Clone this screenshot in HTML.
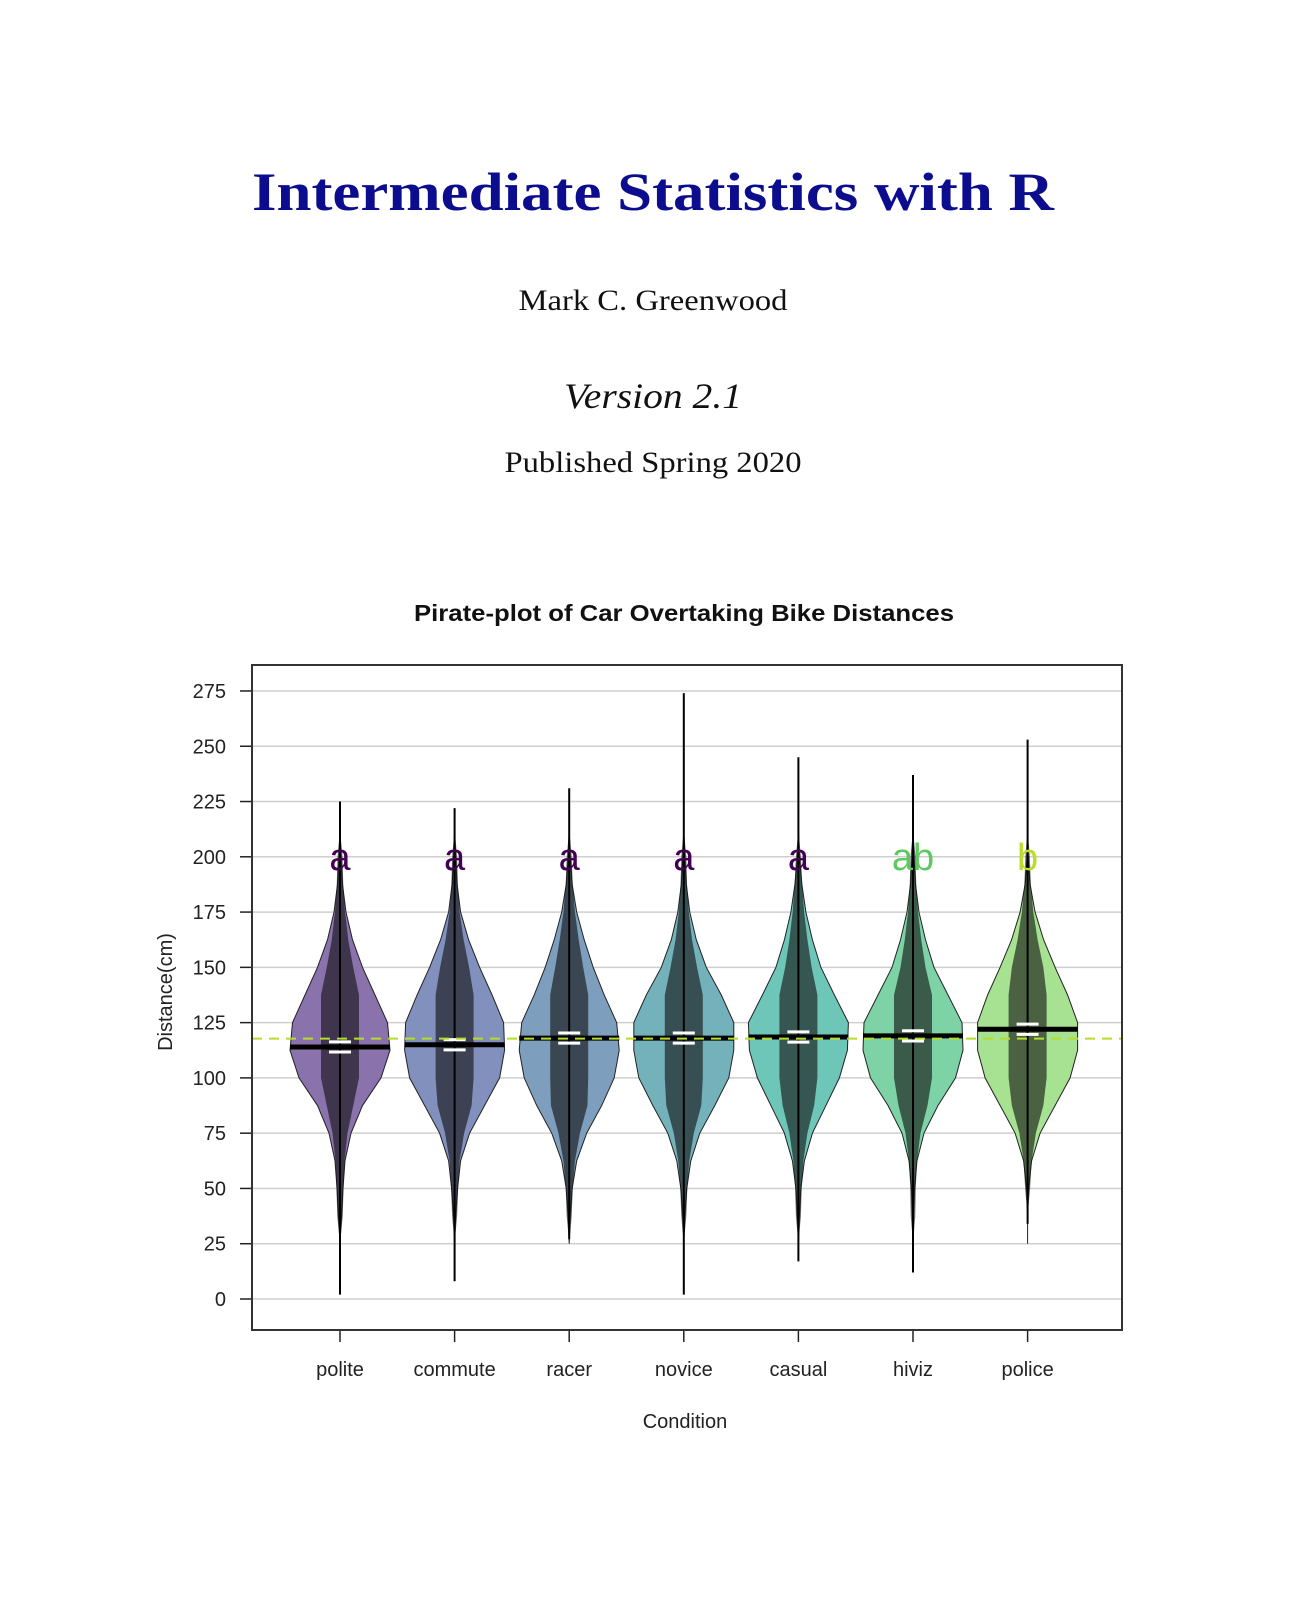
<!DOCTYPE html>
<html><head><meta charset="utf-8"><style>
body{margin:0;background:#fff;width:1312px;height:1615px;overflow:hidden}
svg{display:block}
</style></head><body>
<svg id="s" width="1312" height="1615" viewBox="0 0 1312 1615">
<text x="653" y="210" text-anchor="middle" textLength="802" lengthAdjust="spacingAndGlyphs" font-family="Liberation Serif,serif" font-weight="bold" font-size="54" fill="#0c0c8f">Intermediate Statistics with R</text>
<text x="653" y="310" text-anchor="middle" textLength="269" lengthAdjust="spacingAndGlyphs" font-family="Liberation Serif,serif" font-size="30" fill="#111">Mark C. Greenwood</text>
<text x="653" y="408" text-anchor="middle" textLength="178" lengthAdjust="spacingAndGlyphs" font-family="Liberation Serif,serif" font-style="italic" font-size="36" fill="#111">Version 2.1</text>
<text x="653" y="472" text-anchor="middle" textLength="297" lengthAdjust="spacingAndGlyphs" font-family="Liberation Serif,serif" font-size="30" fill="#111">Published Spring 2020</text>
<text x="684" y="621" text-anchor="middle" textLength="540" lengthAdjust="spacingAndGlyphs" font-family="Liberation Sans,sans-serif" font-weight="bold" font-size="23" fill="#111">Pirate-plot of Car Overtaking Bike Distances</text>
<g id="chart"></g>
<text x="685" y="1428" text-anchor="middle" font-family="Liberation Sans,sans-serif" font-size="20" fill="#222">Condition</text>
<text transform="translate(172,992) rotate(-90)" text-anchor="middle" font-family="Liberation Sans,sans-serif" font-size="20" fill="#222">Distance(cm)</text>
</svg>
<script>
const categories=["polite","commute","racer","novice","casual","hiviz","police"];
const means=[114,115,118,118,118.5,119,122];
const mins=[2,8,27,2,17,12,34];
const maxs=[225,222,231,274,245,237,253];
const letters=["a","a","a","a","a","ab","b"];
const letterColors=["#440154","#440154","#440154","#440154","#440154","#5ec962","#b8de29"];
const fills=["#8a72ad","#8190bd","#7d9fbd","#73b2bb","#6ec6b8","#7dd3a6","#a6e292"];
const yTicks=[0,25,50,75,100,125,150,175,200,225,250,275];
const levels=[25,37.5,50,62.5,75,87.5,100,112.5,125,137.5,150,162.5,175,187.5,200,212.5];
const widths=[
[0,0.03,0.06,0.1,0.22,0.45,0.82,1,0.95,0.7,0.45,0.25,0.12,0.05,0.02,0],
[0,0.02,0.06,0.12,0.3,0.6,0.9,1,0.98,0.75,0.5,0.28,0.12,0.05,0.02,0],
[0,0.02,0.06,0.15,0.35,0.65,0.9,1,0.95,0.7,0.48,0.3,0.15,0.06,0.02,0],
[0,0.02,0.06,0.14,0.32,0.62,0.9,1,1,0.75,0.45,0.25,0.12,0.05,0.02,0],
[0,0.02,0.05,0.12,0.28,0.55,0.82,0.98,1,0.72,0.45,0.28,0.15,0.07,0.02,0],
[0,0.01,0.03,0.08,0.22,0.5,0.85,1,0.98,0.7,0.42,0.25,0.12,0.05,0.02,0],
[0,0,0.02,0.08,0.25,0.55,0.85,1,1,0.8,0.55,0.32,0.15,0.05,0.01,0]
];
const NS="http://www.w3.org/2000/svg";
const L=252,R=1122,T=665,B=1330;
const y=v=>1299-v*2.211;
const x=i=>340+114.6*i;
const g=document.getElementById('chart');
function el(t,a,p){const e=document.createElementNS(NS,t);for(const k in a)e.setAttribute(k,a[k]);(p||g).appendChild(e);return e;}
yTicks.forEach(t=>{
 const gl=el('line',{x1:L,x2:R,y1:y(t),y2:y(t),stroke:'#cfcfcf','stroke-width':1.5});
 
 
 const tk=el('line',{x1:L-12,x2:L,y1:y(t),y2:y(t),stroke:'#222','stroke-width':1.5});
 
 
 const lb=el('text',{x:L-26,y:y(t)+7,'text-anchor':'end','font-family':'Liberation Sans,sans-serif','font-size':20,fill:'#222'});
 lb.textContent=t;
 
 
});
const ov=means.reduce((a,b)=>a+b,0)/means.length;
categories.forEach((c,i)=>{
 const cx=x(i),hw=50;
 let right=[],left=[];
 levels.forEach((lv,j)=>{right.push((cx+widths[i][j]*hw)+','+y(lv));left.unshift((cx-widths[i][j]*hw)+','+y(lv));});
 const v=el('polygon',{points:right.concat(left).join(' '),fill:fills[i],stroke:'#222','stroke-width':1});
 
 
 let r2=[],l2=[];
 levels.forEach((lv,j)=>{const wd=widths[i][j];const w=wd>0?Math.min(wd*hw*0.5,17)+2:0;r2.push((cx+w)+','+y(lv));l2.unshift((cx-w)+','+y(lv));});
 const p=el('polygon',{points:r2.concat(l2).join(' '),fill:'#111','fill-opacity':0.62});
 
 
 const w=el('line',{x1:cx,x2:cx,y1:y(mins[i]),y2:y(maxs[i]),stroke:'#000','stroke-width':2});
 
 
 [2.3,-2.3].forEach(d=>{const h=el('line',{x1:cx-11,x2:cx+11,y1:y(means[i]+d),y2:y(means[i]+d),stroke:'#fff','stroke-width':3});
 
 });
 const m=el('line',{x1:cx-50,x2:cx+50,y1:y(means[i]),y2:y(means[i]),stroke:'#000','stroke-width':5});
 
 
 const lt=el('text',{x:cx,y:y(200)+13,'text-anchor':'middle','font-family':'Liberation Sans,sans-serif','font-size':38,fill:letterColors[i]});
 lt.textContent=letters[i];
 
 
 const xt=el('line',{x1:cx,x2:cx,y1:B,y2:B+12,stroke:'#222','stroke-width':1.5});
 
 
 const xl=el('text',{x:cx,y:1376,'text-anchor':'middle','font-family':'Liberation Sans,sans-serif','font-size':20,fill:'#222'});
 xl.textContent=c;
 
 
});
const ol=el('line',{x1:L,x2:R,y1:y(ov),y2:y(ov),stroke:'#b5de2b','stroke-width':2,'stroke-dasharray':'10,7'});


const box=el('rect',{x:L,y:T,width:R-L,height:B-T,fill:'none',stroke:'#333','stroke-width':2});


</script>
</body></html>
